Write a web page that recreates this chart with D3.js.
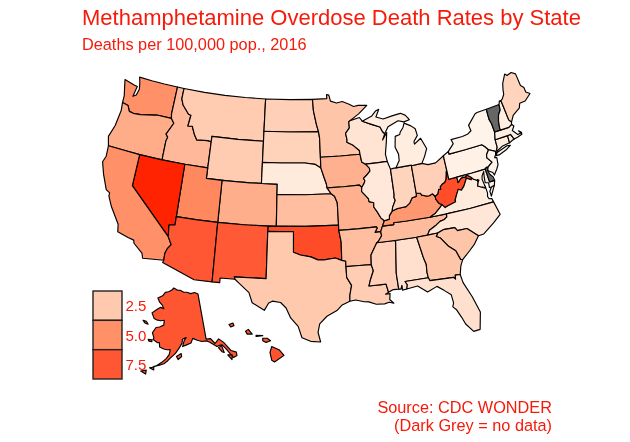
<!DOCTYPE html>
<html><head><meta charset="utf-8">
<script src="https://cdn.jsdelivr.net/npm/d3@7"></script>
<style>html,body{margin:0;background:#fff}svg{display:block;filter:blur(0.35px)}text{font-family:"Liberation Sans",Arial,sans-serif;fill:#f51a0a}</style>
</head><body><svg id="c" width="630" height="442"></svg>
<script>
const titleText="Methamphetamine Overdose Death Rates by State";
const subtitleText="Deaths per 100,000 pop., 2016";
const sourceLines=["Source: CDC WONDER","(Dark Grey = no data)"];
const legendValues=[2.5,5.0,7.5];
const noDataColor="#666666";
const colorStops=[0.5,2.5,5,7.5,10.5];
const colorRange=["#fff6ec","#ffc9ae","#ff9068","#ff5733","#ff2000"];
const stateValues={AL:1.5,AK:7.6,AZ:7.5,AR:3.0,CA:5.0,CO:3.7,CT:0.9,DE:null,DC:null,FL:1.5,GA:2.7,HI:7.8,ID:3.2,IL:1.1,IN:2.0,IA:3.6,KS:3.0,KY:4.7,LA:2.3,ME:2.0,MD:0.9,MA:0.8,MI:0.9,MN:2.7,MS:2.2,MO:3.6,MT:2.4,NE:1.0,NV:10.4,NH:0.8,NJ:0.6,NM:7.4,NY:0.6,NC:1.2,ND:2.2,OH:2.2,OK:8.3,OR:3.8,PA:0.7,RI:0.9,SC:2.7,SD:2.1,TN:3.1,TX:2.5,UT:5.4,VT:null,VA:1.0,WA:5.0,WV:8.2,WI:1.3,WY:2.4};

// shared river and mountain borders, [lon,lat]
const ohWV=[[-80.52,40.64],[-80.63,40.4],[-80.73,40.08],[-80.86,39.75],[-81.1,39.5],[-81.45,39.4],[-81.75,39.2],[-81.75,38.95],[-82.0,39.0],[-82.2,38.6],[-82.59,38.42]];
const ohKY=[[-82.59,38.42],[-82.85,38.72],[-83.3,38.6],[-83.65,38.63],[-84.2,38.8],[-84.3,39.0],[-84.82,39.1]];
const inKY=[[-84.82,39.1],[-84.88,38.78],[-85.4,38.73],[-85.8,38.27],[-86.3,38.0],[-86.8,37.98],[-87.5,37.93],[-88.03,37.8]];
const ilKY=[[-88.03,37.8],[-88.45,37.4],[-88.5,37.07],[-89.13,36.98]];
const mnWI=[[-92.1,46.75],[-92.29,46.66],[-92.29,46.07],[-92.88,45.6],[-92.75,45.0],[-92.8,44.75],[-92.0,44.4],[-91.25,43.85],[-91.22,43.5]];
const iaWI=[[-91.22,43.5],[-91.1,42.75],[-90.64,42.51]];
const iaIL=[[-90.64,42.51],[-90.2,42.1],[-90.18,41.8],[-90.6,41.5],[-91.1,41.2],[-90.95,40.95],[-91.1,40.7],[-91.42,40.38]];
const moIL=[[-91.42,40.38],[-91.5,40.0],[-90.75,39.25],[-90.7,38.95],[-90.15,38.8],[-90.2,38.4],[-89.85,37.9],[-89.5,37.3],[-89.13,36.98]];
const moTN=[[-89.42,36.5],[-89.7,36.0]];
const tnAR=[[-89.7,36.0],[-89.65,35.6],[-90.1,35.1],[-90.3,35.0]];
const arMS=[[-90.3,35.0],[-90.6,34.6],[-91.1,33.9],[-91.17,33.0]];
const laMS=[[-91.17,33.0],[-91.0,32.4],[-91.4,31.6],[-91.63,31.0],[-89.73,31.0],[-89.55,30.2]];
const moAR=[[-89.7,36.0],[-90.37,36.0],[-90.07,36.38],[-90.15,36.5],[-92.4,36.5],[-94.62,36.5]];
const kyTN=[[-89.42,36.5],[-88.07,36.5],[-88.07,36.68],[-86.5,36.65],[-83.68,36.6]];
const tnNC=[[-81.68,36.59],[-81.7,36.3],[-82.05,36.12],[-82.6,36.03],[-83.1,35.77],[-84.0,35.41],[-84.32,34.99]];
const ncSC=[[-83.11,35.0],[-82.4,35.2],[-81.04,35.15],[-80.8,34.82],[-79.67,34.8],[-78.55,33.86]];
const scGA=[[-83.11,35.0],[-83.35,34.7],[-82.9,34.48],[-82.2,33.6],[-81.45,33.0],[-81.1,32.1],[-80.87,32.03]];
const gaAL=[[-85.61,34.98],[-85.18,32.87],[-85.0,32.3],[-85.05,31.55],[-85.0,31.0]];
const gaFL=[[-85.0,31.0],[-84.86,30.7],[-82.2,30.57],[-82.05,30.37],[-82.0,30.75],[-81.45,30.71]];
const alFL=[[-85.0,31.0],[-87.6,31.0],[-87.4,30.67],[-87.52,30.28]];
const alMS=[[-88.2,35.0],[-88.1,34.9],[-88.47,31.9],[-88.4,30.37]];
const vaKY=[[-83.68,36.6],[-83.0,36.85],[-82.3,37.3],[-81.97,37.54]];
const kyWV=[[-81.97,37.54],[-82.3,37.7],[-82.6,38.17],[-82.59,38.42]];
const vaWV=[[-81.97,37.54],[-81.68,37.2],[-81.3,37.3],[-80.3,37.5],[-80.3,37.68],[-79.95,38.2],[-79.65,38.58],[-79.3,38.42],[-78.87,38.76],[-78.35,39.4],[-77.83,39.13],[-77.72,39.32]];
const mdWV=[[-77.72,39.32],[-78.2,39.68],[-78.45,39.52],[-78.77,39.6],[-79.1,39.47],[-79.48,39.2],[-79.48,39.72]];
const paNY=[[-79.76,42.27],[-79.76,42.0],[-77.5,42.0],[-75.35,42.0],[-75.05,41.75],[-74.7,41.36]];
const paNJ=[[-74.7,41.36],[-75.13,40.97],[-75.2,40.68],[-74.72,40.15],[-75.13,39.95],[-75.42,39.8]];
const potomac=[[-77.72,39.32],[-77.52,39.12],[-77.12,38.93],[-77.04,38.79],[-77.25,38.4],[-76.95,38.27]];
const nyVT=[[-73.35,45.01],[-73.4,44.5],[-73.43,44.03],[-73.3,43.6],[-73.25,42.75]];
const nyCT=[[-73.5,42.05],[-73.55,41.3],[-73.73,41.1],[-73.65,41.0]];
const vtNH=[[-71.5,45.01],[-71.6,44.5],[-72.05,44.1],[-72.3,43.6],[-72.45,43.0],[-72.46,42.73]];
const nhME=[[-71.08,45.3],[-71.03,44.6],[-70.97,43.35],[-70.72,43.07]];
const miBorder=[[-90.42,46.57],[-89.1,46.13],[-88.1,45.8],[-87.85,45.35],[-87.6,45.1]];
const ilIN=[[-87.53,41.72],[-87.53,39.35],[-87.6,39.0],[-87.5,38.75],[-87.95,38.1],[-88.03,37.8]];
const iaMoRiver=[[-95.77,40.58],[-95.85,41.0],[-96.1,41.6],[-96.45,42.49]];
const redND=[[-96.56,45.93],[-96.8,46.6],[-97.15,47.9],[-97.23,49.0]];
const redTX=[[-100,34.56],[-99.2,34.3],[-98.0,34.1],[-97.2,33.8],[-96.5,33.78],[-95.2,33.9],[-94.48,33.64]];
const orID=[[-117.03,42.0],[-117.03,43.8],[-116.9,44.2],[-117.2,44.45],[-116.46,45.6],[-116.92,46.0]];
const waOR=[[-124.05,46.27],[-123.2,46.15],[-122.8,45.65],[-122.2,45.58],[-121.2,45.65],[-119.3,45.93],[-119.0,46.0],[-116.92,46.0]];
const idMT=[[-116.05,49.0],[-116.05,48.0],[-115.7,47.45],[-114.7,46.7],[-114.35,46.65],[-114.5,45.6],[-113.9,45.65],[-113.45,44.95],[-113.0,44.45],[-111.5,44.55],[-111.05,44.48]];
const azCA=[[-114.63,35.0],[-114.15,34.3],[-114.5,33.9],[-114.72,33.4],[-114.72,32.72]];
const r=a=>a.slice().reverse();

const stateRings={
WA:[[[-124.7,48.38],[-124.1,46.9],...waOR,[-117.04,46.4],[-117.03,49],[-119,49],[-120.9,49],[-122.76,49],[-122.5,48.5],[-122.3,47.9],[-122.5,47.3],[-122.9,47.1],[-122.7,48.1],[-123.2,48.15]]],
OR:[[[-124.05,46.27],[-123.9,45.5],[-124.1,44.0],[-124.55,42.84],[-124.2,42.0],[-122,42],[-120,42],[-118.5,42],...orID,...r(waOR).slice(1)]],
ID:[[[-117.03,49],...idMT,[-111.05,42],[-114.04,42],...orID,[-117.04,46.4]]],
MT:[[...idMT,[-111.05,45],[-107.5,45],[-104.05,45],[-104.05,49],[-107,49],[-110,49],[-113,49]]],
WY:[[[-111.05,45],[-107.5,45],[-104.05,45],[-104.05,41],[-107.5,41],[-111.05,41]]],
CO:[[[-109.05,41],[-105.5,41],[-102.05,41],[-102.05,37],[-105.5,37],[-109.05,37]]],
UT:[[[-114.04,42],[-111.05,42],[-111.05,41],[-109.05,41],[-109.05,37],[-111.5,37],[-114.05,37]]],
NV:[[[-120,42],[-117,42],[-114.04,42],[-114.05,37],[-114.05,36.2],[-114.75,36.1],[-114.63,35],[-120,39]]],
CA:[[[-124.2,42],[-120,42],[-120,39],...azCA,[-117.12,32.53],[-117.3,33.0],[-118.4,33.75],[-118.5,34.03],[-119.2,34.15],[-120.5,34.45],[-120.65,35.15],[-121.9,36.6],[-122.5,37.5],[-122.5,37.8],[-123.0,38.0],[-123.8,39.3],[-124.35,40.4],[-124.1,41.0]]],
AZ:[[[-114.05,37],[-111.5,37],[-109.05,37],[-109.05,31.33],[-111.07,31.33],[-114.81,32.5],...r(azCA),[-114.75,36.1],[-114.05,36.2]]],
NM:[[[-109.05,37],[-106,37],[-103,37],[-103.04,36.5],[-103.06,32],[-106.62,32],[-106.53,31.78],[-108.2,31.78],[-108.2,31.33],[-109.05,31.33]]],
ND:[[[-104.05,49],[-100.5,49],...r(redND),[-100.5,45.94],[-104.05,45.94]]],
SD:[[[-104.05,45.94],[-100.5,45.94],[-96.56,45.93],[-96.45,45.3],[-96.45,43.5],[-96.45,42.49],[-97.2,42.85],[-98.5,43.0],[-101.5,43],[-104.05,43]]],
NE:[[[-104.05,43],[-101.5,43],[-98.5,43.0],[-97.2,42.85],...r(iaMoRiver),[-95.31,40],[-98.5,40],[-102.05,40],[-102.05,41],[-104.05,41]]],
KS:[[[-102.05,40],[-98.5,40],[-95.31,40],[-94.9,39.75],[-94.61,39.11],[-94.62,37],[-98.5,37],[-102.04,37]]],
OK:[[[-103,37],[-98.5,37],[-94.62,37],[-94.62,36.5],[-94.43,35.4],...r(redTX),[-100,36.5],[-103.04,36.5]]],
TX:[[[-103.04,36.5],[-100,36.5],...redTX,[-94.04,33.55],[-94.04,33.02],[-94.04,31.99],[-93.55,31.2],[-93.8,30.3],[-93.85,29.7],[-94.7,29.4],[-95.3,28.9],[-96.4,28.4],[-97.2,27.7],[-97.4,26.9],[-97.15,25.96],[-98.2,26.05],[-99.1,26.4],[-99.5,27.5],[-100.3,28.3],[-100.8,29.25],[-101.4,29.77],[-102.3,29.88],[-102.7,29.7],[-103.15,28.98],[-104.5,29.65],[-104.9,30.6],[-106.0,31.4],[-106.53,31.78],[-106.62,32],[-103.06,32]]],
MN:[[[-97.23,49],[-95.15,49],[-95.15,49.38],[-94.82,49.32],[-94.64,48.74],[-93.8,48.52],[-92.95,48.62],[-92.0,48.3],[-91.4,48.05],[-90.75,48.1],[-89.5,48.0],[-90.8,47.3],...mnWI,[-93.8,43.5],[-96.45,43.5],[-96.45,45.3],[-96.56,45.93],[-96.8,46.6],[-97.15,47.9]]],
IA:[[[-96.45,43.5],[-93.8,43.5],[-91.22,43.5],[-91.1,42.75],...iaIL,[-91.73,40.61],[-93.7,40.58],...iaMoRiver]],
MO:[[[-95.77,40.58],[-93.7,40.58],[-91.73,40.61],...moIL,...moTN,...moAR.slice(1),[-94.62,37],[-94.61,39.11],[-94.9,39.75],[-95.31,40]]],
AR:[[...r(moAR),...tnAR.slice(1),...arMS.slice(1),[-92.5,33.02],[-94.04,33.02],[-94.04,33.55],[-94.48,33.64],[-94.43,35.4]]],
LA:[[[-94.04,33.02],[-92.5,33.02],...laMS,[-89.9,30.05],[-89.4,30.05],[-89.5,29.5],[-89.1,29.1],[-89.6,29.25],[-90.1,29.15],[-91.0,29.2],[-91.8,29.5],[-92.3,29.55],[-93.2,29.78],[-93.85,29.7],[-93.8,30.3],[-93.55,31.2],[-94.04,31.99]]],
MS:[[...r(arMS),...alMS,[-89.0,30.4],...r(laMS)]],
AL:[[[-88.2,35],[-85.61,34.98],...gaAL,...alFL.slice(1),[-88.0,30.23],[-88.0,30.7],[-88.15,30.35],...r(alMS)]],
TN:[[...kyTN,[-81.68,36.59],...tnNC,[-85.61,34.98],[-88.2,35],...r(tnAR),...r(moTN).slice(1)]],
KY:[[[-89.13,36.98],...kyTN,...vaKY,...kyWV,...ohKY,...inKY,...ilKY]],
WI:[[[-92.1,46.75],[-90.75,46.95],...miBorder,[-88.0,44.55],[-87.3,45.2],[-87.55,44.3],[-87.9,43.2],[-87.8,42.49],[-89.2,42.5],...r(iaWI),...r(mnWI)]],
IL:[[[-87.8,42.49],...ilIN,...ilKY,...r(moIL),...r(iaIL),[-89.2,42.5]]],
IN:[[[-87.53,41.72],[-87.2,41.76],[-86.82,41.76],[-84.81,41.76],...inKY,...r(ilIN).slice(1)]],
OH:[[[-84.81,41.7],[-83.45,41.73],[-82.7,41.5],[-81.7,41.5],[-80.52,41.98],[-80.52,40.64],...ohWV,...ohKY]],
MI:[[[-84.81,41.76],[-86.82,41.76],[-86.25,42.4],[-86.2,43.0],[-86.5,43.7],[-86.25,44.7],[-85.6,44.8],[-85.5,45.0],[-85.0,45.4],[-84.75,45.78],[-83.9,45.4],[-83.4,45.05],[-83.3,44.4],[-83.9,43.9],[-83.9,43.65],[-82.95,44.07],[-82.45,43.0],[-82.9,42.35],[-83.15,42.05],[-83.45,41.73],[-84.81,41.7]],
    [...miBorder,[-87.0,45.7],[-86.5,45.85],[-85.5,46.1],[-84.75,45.9],[-83.95,46.0],[-84.1,46.2],[-84.4,46.5],[-85.0,46.75],[-86.1,46.67],[-87.5,46.5],[-88.45,46.8],[-87.9,47.47],[-88.4,47.35],[-89.0,46.95]]],
WV:[[...ohWV,...r(kyWV),...vaWV,...mdWV,[-80.52,39.72]]],
VA:[[...vaKY,...vaWV,...potomac.slice(1),[-76.33,37.95],[-76.3,37.5],[-76.4,37.2],[-76.3,36.95],[-75.97,36.9],[-75.87,36.55],[-78.8,36.55],[-81.68,36.59]],
    [[-75.65,37.95],[-75.24,38.03],[-75.95,37.12],[-75.97,37.6]]],
NC:[[...tnNC,...ncSC,[-77.9,33.9],[-76.5,34.65],[-75.5,35.25],[-75.87,36.55],[-78.8,36.55]]],
SC:[[...ncSC,[-79.2,33.2],[-79.9,32.7],...r(scGA)]],
GA:[[[-85.61,34.98],[-84.32,34.99],...scGA,[-81.2,31.5],...r(gaFL),...r(gaAL)]],
FL:[[[-87.52,30.28],[-86.3,30.4],[-85.3,29.68],[-84.2,30.05],[-83.5,29.55],[-82.8,29.0],[-82.7,28.2],[-82.85,27.85],[-82.5,27.5],[-82.1,26.7],[-81.8,26.0],[-81.1,25.15],[-80.4,25.2],[-80.05,26.8],[-80.6,28.4],[-81.3,29.9],...r(gaFL),...alFL.slice(1)]],
PA:[[...paNY,...paNJ,[-75.6,39.84],[-75.79,39.72],[-77.5,39.72],[-79.48,39.72],[-80.52,39.72],[-80.52,40.64],[-80.52,41.98]]],
NY:[[[-79.76,42.27],[-78.9,42.85],[-79.05,43.27],[-77.5,43.27],[-76.7,43.35],[-76.2,43.55],[-76.3,44.1],[-75.8,44.43],[-75.0,44.95],[-74.7,45.0],...nyVT,[-73.5,42.05],...nyCT.slice(1),[-73.9,40.85],[-74.03,40.7],[-73.9,41.0],[-74.7,41.36],...r(paNY).slice(1)],
    [[-74.03,40.62],[-73.75,40.85],[-72.3,41.15],[-71.87,41.07],[-72.6,40.8],[-73.6,40.58]]],
NJ:[[[-74.7,41.36],[-73.9,41.0],[-74.03,40.7],[-74.25,40.48],[-73.98,40.42],[-74.1,39.75],[-74.4,39.4],[-74.9,38.93],[-75.0,39.2],[-75.5,39.5],[-75.55,39.62],[-75.42,39.8],...r(paNJ).slice(1)]],
MD:[[[-79.48,39.72],[-77.5,39.72],[-75.79,39.72],[-75.7,38.46],[-75.05,38.45],[-75.24,38.03],[-75.65,37.95],[-75.9,37.95],[-75.85,38.4],[-76.25,38.5],[-76.2,38.95],[-76.1,39.4],[-76.05,39.55],[-76.4,39.2],[-76.5,38.9],[-76.4,38.3],[-76.33,38.05],...r(potomac),...mdWV]],
DE:[[[-75.79,39.72],[-75.7,38.46],[-75.05,38.45],[-75.1,38.8],[-75.4,39.1],[-75.55,39.5],[-75.42,39.8],[-75.6,39.84]]],
DC:[[[-77.12,38.93],[-77.04,39.0],[-76.91,38.89],[-77.04,38.79]]],
CT:[[[-73.5,42.05],[-71.8,42.02],[-71.86,41.32],[-72.9,41.25],...r(nyCT)]],
RI:[[[-71.8,42.02],[-71.38,42.02],[-71.13,41.5],[-71.4,41.45],[-71.86,41.32]]],
MA:[[[-73.5,42.05],[-73.25,42.75],[-72.46,42.73],[-71.3,42.7],[-70.82,42.87],[-70.6,42.65],[-71.0,42.3],[-70.65,41.95],[-70.5,41.78],[-70.05,41.8],[-70.25,42.07],[-69.95,41.85],[-70.0,41.65],[-70.65,41.55],[-71.13,41.5],[-71.38,42.02],[-71.8,42.02]]],
VT:[[...nyVT,[-72.46,42.73],...r(vtNH)]],
NH:[[...vtNH,[-71.3,42.7],[-70.82,42.87],...r(nhME),[-71.3,45.3]]],
ME:[[[-71.08,45.3],[-70.8,45.4],[-70.4,45.75],[-70.25,46.2],[-70.0,46.7],[-69.23,47.46],[-69.0,47.25],[-68.3,47.35],[-67.79,47.07],[-67.78,45.9],[-67.45,45.6],[-67.45,45.15],[-67.0,44.85],[-68.0,44.4],[-68.8,44.4],[-69.1,44.0],[-69.8,43.75],[-70.2,43.6],...r(nhME)]],
AK:[[[-141,69.65],[-143,70.1],[-145.5,70.0],[-148,70.4],[-150,70.45],[-152,70.85],[-154,70.9],[-156.6,71.35],[-158,70.85],[-160,70.5],[-162,70.3],[-163.5,69.5],[-166.2,68.9],[-164.7,68.1],[-163,67.6],[-161.8,66.9],[-163.7,67.1],[-165.5,66.6],[-168,65.65],[-166.3,64.6],[-165,64.45],[-162.8,64.4],[-161,64.6],[-161,63.6],[-163,63.1],[-164.7,62.9],[-166,61.7],[-165,60.8],[-165.2,60.4],[-163,59.9],[-162.2,60],[-161.9,59.1],[-160,58.8],[-158.7,58.7],[-157.2,58.8],[-157.5,57.8],[-158.7,56.9],[-160.5,56],[-162.5,55.2],[-164.5,54.6],[-163,55.1],[-161.5,55.35],[-159.5,55.8],[-158,56.5],[-156.5,57.3],[-155,58],[-153.5,59],[-152,60.1],[-151.8,60.9],[-150,61.2],[-151,60.6],[-151.8,59.4],[-150,59.7],[-148,60],[-147,60.9],[-145,60.4],[-143,60],[-141,59.95],[-139.8,59.6],[-137,58.3],[-135.8,58.4],[-134.7,58.3],[-133.5,57.2],[-132.5,56],[-131.7,55.1],[-130.2,55.2],[-130,55.9],[-131.8,56.6],[-133.8,58.7],[-135.5,59.7],[-137.5,59],[-139,60.2],[-141,60.3],[-141,65]],
 [[-154.5,57.4],[-152.5,58],[-152.3,57.4],[-153.8,56.8]],[[-167.4,60.2],[-165.7,60.3],[-165.6,59.9],[-166.9,59.9]],[[-171.7,63.7],[-170,63.7],[-168.8,63.2],[-170.5,63.3]],[[-164.9,54.6],[-163.3,54.9],[-163.2,54.3]],[[-168,53.6],[-166,54],[-166,53.2]],[[-136.5,58],[-135,58.2],[-134.7,56.7],[-135.5,57]],[[-133.6,56],[-131.9,55.7],[-132.5,54.8]]],
HI:[[[-155.9,20.25],[-155.2,19.95],[-154.8,19.5],[-155.65,18.95],[-155.9,19.1],[-156.05,19.75]],[[-156.7,20.95],[-156.3,20.95],[-156,20.75],[-156.4,20.6],[-156.7,20.75]],[[-157.3,21.2],[-156.7,21.17],[-157.3,21.1]],[[-158.25,21.55],[-158,21.7],[-157.65,21.3],[-158.1,21.3]],[[-159.75,22.1],[-159.4,22.23],[-159.3,22],[-159.6,21.9]]]
};

const svg=d3.select("#c");
const color=d3.scaleLinear().domain(colorStops).range(colorRange).interpolate(d3.interpolateLab).clamp(true);

// projection + linear fit to the plotted panel
function fitted(projection,ax,ay){
  const xs=ax.map(a=>projection(a.ll)[0]),ys=ay.map(a=>projection(a.ll)[1]);
  const sx=d3.scaleLinear().domain(xs).range(ax.map(a=>a.px));
  const sy=d3.scaleLinear().domain(ys).range(ay.map(a=>a.px));
  return d3.geoPath(d3.geoTransform({point(lon,lat){const p=projection([lon,lat]);this.stream.point(sx(p[0]),sy(p[1]));}}));
}
const lower=fitted(d3.geoAzimuthalEqualArea().rotate([100,-45]).scale(1).translate([0,0]),
  [{ll:[-124.7,48.38],px:125},{ll:[-67,44.85],px:530}],[{ll:[-69.23,47.46],px:74},{ll:[-97.15,25.96],px:342}]);
const alaska=fitted(d3.geoConicEqualArea().parallels([55,65]).rotate([154,0]).center([-2,58.5]).scale(1).translate([0,0]),
  [{ll:[-168,65.65],px:152},{ll:[-130.2,55.2],px:237}],[{ll:[-156.6,71.35],px:288},{ll:[-164.5,54.6],px:368}]);
const hawaii=fitted(d3.geoConicEqualArea().parallels([8,18]).rotate([157,0]).center([-3,19.9]).scale(1).translate([0,0]),
  [{ll:[-159.75,22.1],px:229},{ll:[-154.8,19.5],px:284}],[{ll:[-159.4,22.23],px:323},{ll:[-155.65,18.95],px:362}]);
const pathOf=k=>k==="AK"?alaska:k==="HI"?hawaii:lower;

svg.append("g").selectAll("path").data(Object.keys(stateRings)).join("path")
  .attr("d",k=>pathOf(k)({type:"MultiPolygon",coordinates:stateRings[k].map(ring=>[ring.concat([ring[0]])])}))
  .attr("fill",k=>stateValues[k]==null?noDataColor:color(stateValues[k]))
  .attr("stroke","#000").attr("stroke-width",1.15).attr("stroke-linejoin","round");

svg.append("text").attr("x",82).attr("y",25).attr("font-size",22).text(titleText);
svg.append("text").attr("x",82).attr("y",49.5).attr("font-size",16.3).text(subtitleText);
svg.append("g").selectAll("text").data(sourceLines).join("text").attr("x",552).attr("y",(d,i)=>413+i*18)
  .attr("text-anchor","end").attr("font-size",16.3).text(d=>d);

const ly=d3.scaleBand().domain(legendValues).range([291,379]);
const lg=svg.append("g").selectAll("g").data(legendValues).join("g");
lg.append("rect").attr("x",93).attr("y",d=>ly(d)).attr("width",29).attr("height",ly.bandwidth())
  .attr("fill",d=>color(d)).attr("stroke","#222").attr("stroke-width",1.4);
lg.append("text").attr("x",125.5).attr("y",d=>ly(d)+ly.bandwidth()/2+5.5).attr("font-size",15).text(d=>d.toFixed(1));
</script></body></html>
